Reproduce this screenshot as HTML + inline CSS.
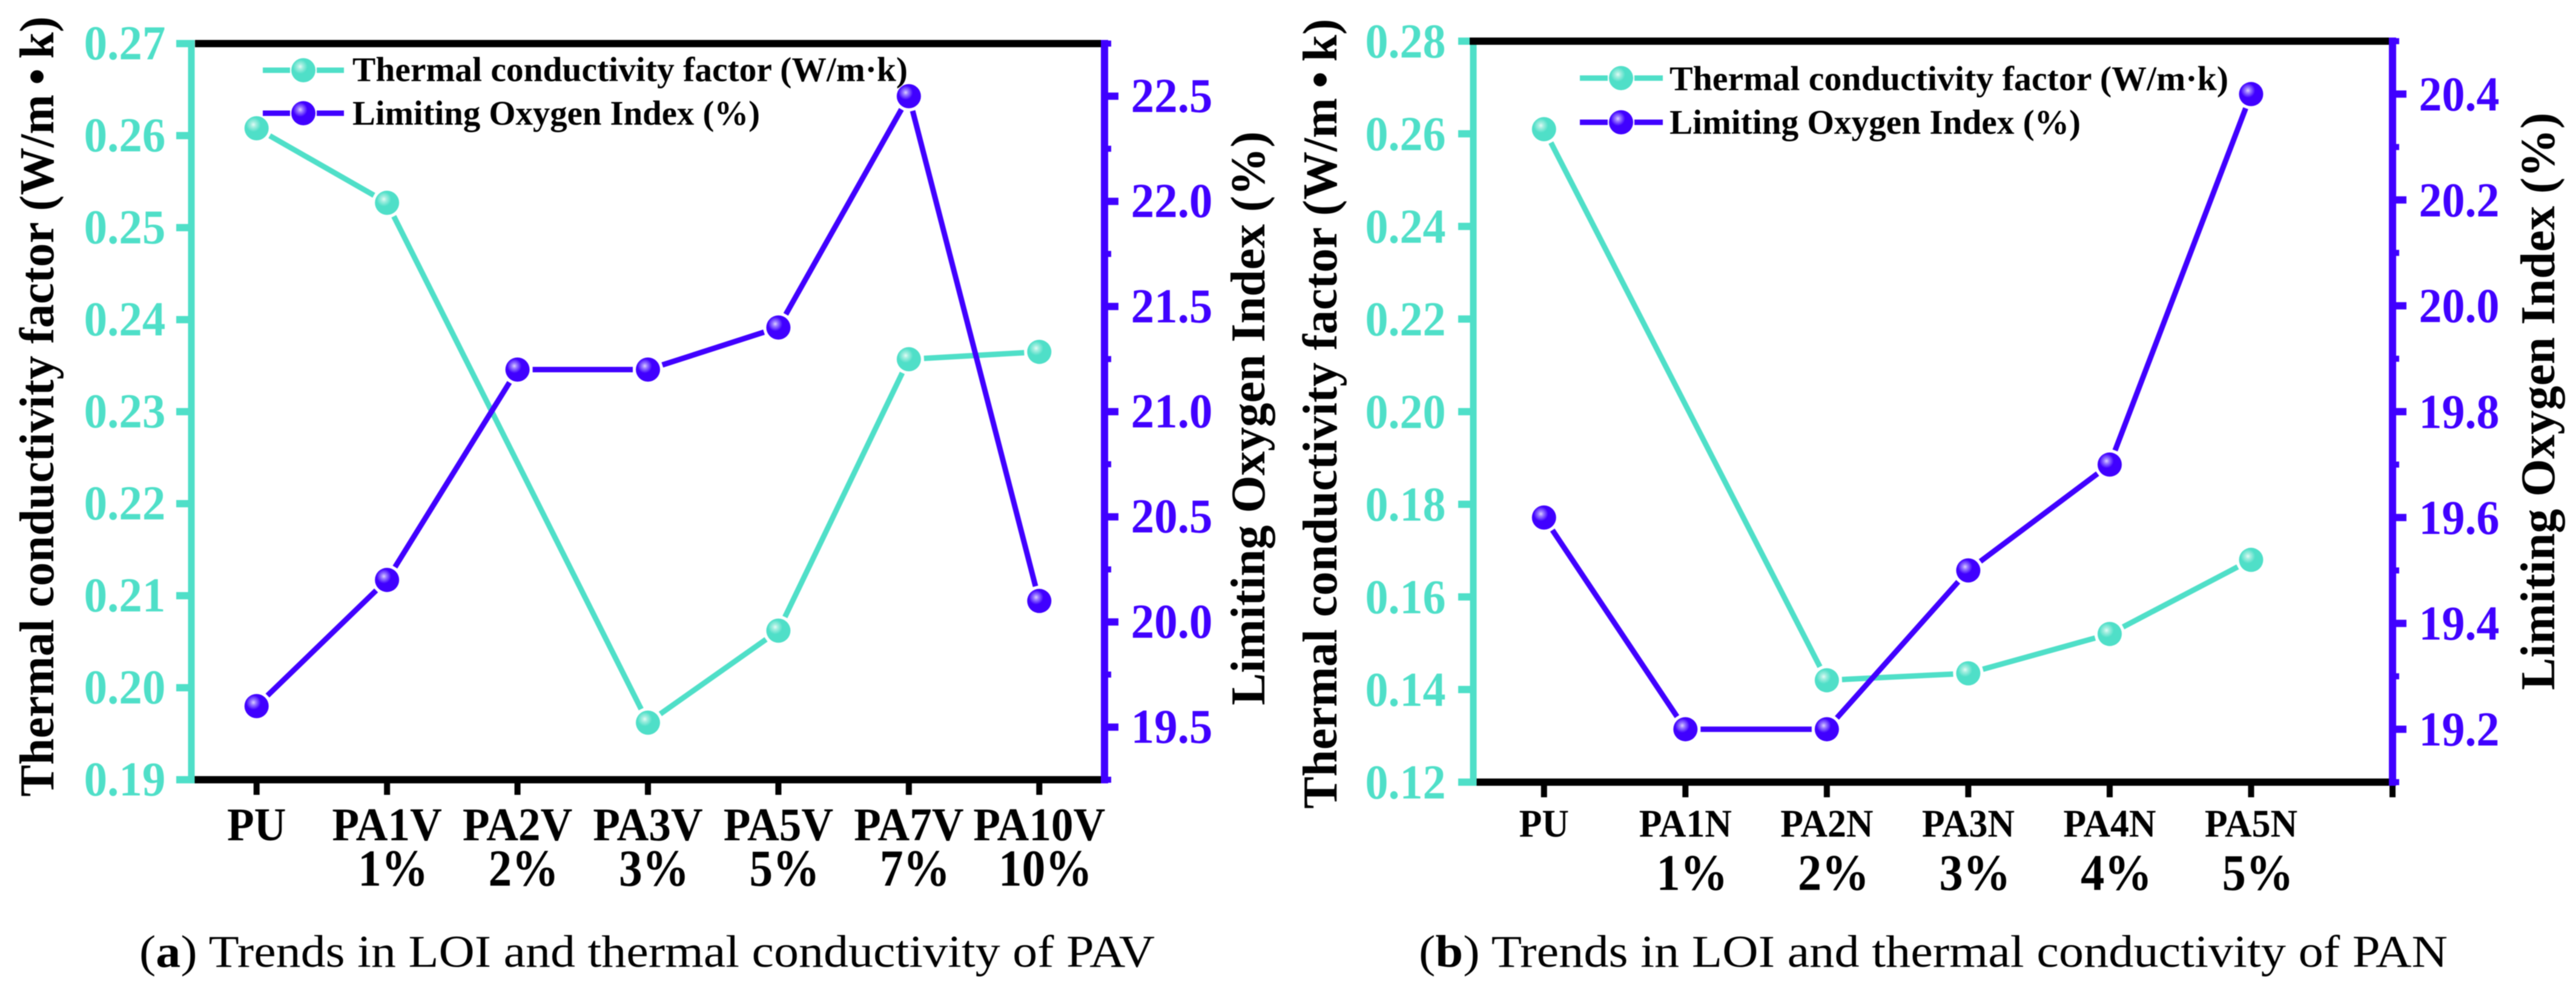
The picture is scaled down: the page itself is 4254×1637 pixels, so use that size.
<!DOCTYPE html>
<html lang="en">
<head>
<meta charset="utf-8">
<title>Trends in LOI and thermal conductivity of PAV and PAN</title>
<style>
  html, body { margin: 0; padding: 0; background: #fff; width: 4254px; height: 1637px; overflow: hidden; }
  svg { display: block; filter: blur(0.7px); }
  text { font-family: "Liberation Serif", serif; }
  .b { font-weight: 700; }
</style>
</head>
<body>
<svg id="figure" xmlns="http://www.w3.org/2000/svg" width="4254" height="1637" viewBox="0 0 4254 1637">
  <defs>
    <radialGradient id="ball-teal" cx="0.37" cy="0.35" r="0.3">
      <stop offset="0" stop-color="#e4fbf6"/>
      <stop offset="0.35" stop-color="#a5eee0"/>
      <stop offset="1" stop-color="#4fdfc8"/>
    </radialGradient>
    <radialGradient id="ball-purple" cx="0.37" cy="0.35" r="0.3">
      <stop offset="0" stop-color="#dcd0ff"/>
      <stop offset="0.35" stop-color="#9a7cff"/>
      <stop offset="1" stop-color="#4000ff"/>
    </radialGradient>
  </defs>
  <rect x="0" y="0" width="4254" height="1637" fill="#ffffff"/>
  <g id="panel-a"></g>
  <g id="panel-b"></g>

  <text x="230" y="1597" font-size="75" textLength="1677" lengthAdjust="spacingAndGlyphs">(<tspan class="b">a</tspan>) Trends in LOI and thermal conductivity of PAV</text>
  <text x="2343" y="1597" font-size="75" textLength="1699" lengthAdjust="spacingAndGlyphs">(<tspan class="b">b</tspan>) Trends in LOI and thermal conductivity of PAN</text>
</svg>
<script>
const categoriesA = ['PU', 'PA1V', 'PA2V', 'PA3V', 'PA5V', 'PA7V', 'PA10V'];
const percentsA = ['', '1%', '2%', '3%', '5%', '7%', '10%'];
const thermalA = [0.2608, 0.2527, null, 0.1962, 0.2062, 0.2357, 0.2365];
const oxygenA = [19.6, 20.2, 21.2, 21.2, 21.4, 22.5, 20.1];
const leftTicksA = ['0.19', '0.20', '0.21', '0.22', '0.23', '0.24', '0.25', '0.26', '0.27'];
const rightTicksA = ['19.5', '20.0', '20.5', '21.0', '21.5', '22.0', '22.5'];
const rightMinorA = [19.25, 19.75, 20.25, 20.75, 21.25, 21.75, 22.25, 22.75];

const categoriesB = ['PU', 'PA1N', 'PA2N', 'PA3N', 'PA4N', 'PA5N', ''];
const percentsB = ['', '1%', '2%', '3%', '4%', '5%', ''];
const thermalB = [0.261, null, 0.142, 0.1435, 0.152, 0.168];
const oxygenB = [19.6, 19.2, 19.2, 19.5, 19.7, 20.4];
const leftTicksB = ['0.12', '0.14', '0.16', '0.18', '0.20', '0.22', '0.24', '0.26', '0.28'];
const rightTicksB = ['19.2', '19.4', '19.6', '19.8', '20.0', '20.2', '20.4'];
const rightMinorB = [19.1, 19.3, 19.5, 19.7, 19.9, 20.1, 20.3, 20.5];

const TEAL = '#4fdfc8';
const PURPLE = '#4000ff';
const SVGNS = 'http://www.w3.org/2000/svg';

function make(parent, tag, attrs, content) {
  const el = document.createElementNS(SVGNS, tag);
  for (const k in attrs) el.setAttribute(k, attrs[k]);
  if (content !== undefined) el.textContent = content;
  parent.appendChild(el);
  return el;
}

function squeezedText(parent, x, y, str, size, sx, fill) {
  return make(parent, 'text', {
    transform: 'translate(' + x + ' ' + y + ') scale(' + sx + ' 1)',
    'text-anchor': 'middle', 'font-size': size, 'font-weight': 700, fill: fill
  }, str);
}

function drawSeries(g, values, xOf, yOf, color, gradient, seriesName) {
  const pts = [];
  values.forEach(function (v, i) { if (v !== null) pts.push({ x: xOf(i), y: yOf(v) }); });
  const trim = 25;
  for (let i = 0; i < pts.length - 1; i++) {
    const a = pts[i], b = pts[i + 1];
    const d = Math.hypot(b.x - a.x, b.y - a.y);
    const ux = (b.x - a.x) / d, uy = (b.y - a.y) / d;
    const seg = make(g, 'line', {
      x1: a.x + ux * trim, y1: a.y + uy * trim,
      x2: b.x - ux * trim, y2: b.y - uy * trim,
      stroke: color, 'stroke-width': 9
    });
    
    
  }
  pts.forEach(function (p) {
    const dot = make(g, 'circle', { cx: p.x, cy: p.y, r: 20, fill: 'url(#' + gradient + ')' });
    
    
  });
}

function drawLegendEntry(g, geo, y, baseline, color, gradient, label, endX, entryName) {
  const left = make(g, 'line', { x1: geo.lx0, y1: y, x2: geo.mx - 22, y2: y, stroke: color, 'stroke-width': 9 });
  
  
  const right = make(g, 'line', { x1: geo.mx + 22, y1: y, x2: geo.lx1, y2: y, stroke: color, 'stroke-width': 9 });
  
  
  const dot = make(g, 'circle', { cx: geo.mx, cy: y, r: 20, fill: 'url(#' + gradient + ')' });
  
  
  const t = make(g, 'text', {
    x: geo.tx, y: baseline, 'font-size': 57, 'font-weight': 700, fill: '#000',
    textLength: endX - geo.tx, lengthAdjust: 'spacingAndGlyphs'
  }, label);
  
  
}

function drawPanel(g, c) {
  const xOf = function (i) { return c.left + (i - c.xMin) / (c.xMax - c.xMin) * (c.right - c.left); };
  const yL = function (v) { return c.bottom - (v - c.lMin) / (c.lMax - c.lMin) * (c.bottom - c.top); };
  const yR = function (v) { return c.bottom - (v - c.rMin) / (c.rMax - c.rMin) * (c.bottom - c.top); };

  // bottom frame line
  const bottomAxis = make(g, 'line', { x1: c.left, y1: c.bottom, x2: c.right, y2: c.bottom, stroke: '#000', 'stroke-width': 12 });
  
  

  // x ticks and labels
  c.categories.forEach(function (cat, i) {
    const x = xOf(i);
    const tick = make(g, 'line', { x1: x, y1: c.bottom, x2: x, y2: c.bottom + 25, stroke: '#000', 'stroke-width': 10 });
    
    
    if (cat) {
      const lab = squeezedText(g, x, c.xLabelY, cat, c.xLabelSize, 0.95, '#000');
      
      
    }
    if (c.percents[i]) {
      const pct = squeezedText(g, x + c.pctShift, c.pctY, c.percents[i], c.pctSize, c.pctSx, '#000');
      
      
    }
  });

  // left axis
  const leftAxis = make(g, 'line', { x1: c.left, y1: c.top - 6, x2: c.left, y2: c.bottom + 6, stroke: TEAL, 'stroke-width': 11 });
  
  
  c.leftTicks.forEach(function (s) {
    const y = yL(parseFloat(s));
    const tick = make(g, 'line', { x1: c.left - 25, y1: y, x2: c.left, y2: y, stroke: TEAL, 'stroke-width': 12 });
    
    
    const lab = squeezedText(g, c.leftLabelX, y + c.labelDrop, s, c.tickSize, 0.95, TEAL);
    
    
  });

  // top frame line: over the teal axis in panel b, under it in panel a
  const topAxis = make(g, 'line', { x1: c.topStart, y1: c.top, x2: c.right, y2: c.top, stroke: '#000', 'stroke-width': 12 });
  
  

  // right axis
  const rightAxis = make(g, 'line', { x1: c.right, y1: c.top - 6, x2: c.right, y2: c.bottom + 6, stroke: PURPLE, 'stroke-width': 12 });
  
  
  c.rightMinor.forEach(function (v) {
    const y = yR(v);
    const tick = make(g, 'line', { x1: c.right, y1: y, x2: c.right + 11, y2: y, stroke: PURPLE, 'stroke-width': 10 });
    
    
  });
  c.rightTicks.forEach(function (s) {
    const y = yR(parseFloat(s));
    const tick = make(g, 'line', { x1: c.right, y1: y, x2: c.right + 23, y2: y, stroke: PURPLE, 'stroke-width': 12 });
    
    
    const lab = squeezedText(g, c.rightLabelX, y + c.labelDrop, s, c.tickSize, 0.95, PURPLE);
    
    
  });

  // axis titles
  const lt = make(g, 'text', {
    transform: 'translate(' + c.leftTitle.x + ' ' + c.leftTitle.y0 + ') rotate(-90)',
    'font-size': 80, 'font-weight': 700, fill: '#000',
    textLength: c.leftTitle.len, lengthAdjust: 'spacingAndGlyphs'
  }, 'Thermal conductivity factor (W/m\u2009\u2022\u2009k)');
  
  
  const rt = make(g, 'text', {
    transform: 'translate(' + c.rightTitle.x + ' ' + c.rightTitle.y0 + ') rotate(-90)',
    'font-size': 80, 'font-weight': 700, fill: '#000',
    textLength: c.rightTitle.len, lengthAdjust: 'spacingAndGlyphs'
  }, 'Limiting Oxygen Index (%)');
  
  

  // series
  drawSeries(g, c.thermal, xOf, yL, TEAL, 'ball-teal', 'thermal-conductivity');
  drawSeries(g, c.oxygen, xOf, yR, PURPLE, 'ball-purple', 'limiting-oxygen-index');

  // legend
  drawLegendEntry(g, c.legend, c.legend.y1, c.legend.b1, TEAL, 'ball-teal', 'Thermal conductivity factor (W/m\u00b7k)', c.legend.end1, 'legend-thermal-conductivity');
  drawLegendEntry(g, c.legend, c.legend.y2, c.legend.b2, PURPLE, 'ball-purple', 'Limiting Oxygen Index (%)', c.legend.end2, 'legend-limiting-oxygen-index');
}

drawPanel(document.getElementById('panel-a'), {
  left: 316, right: 1824, top: 72, bottom: 1288, topStart: 322,
  xMin: -0.5, xMax: 6.5, lMin: 0.19, lMax: 0.27, rMin: 19.25, rMax: 22.75,
  categories: categoriesA, percents: percentsA, thermal: thermalA, oxygen: oxygenA,
  leftTicks: leftTicksA, rightTicks: rightTicksA, rightMinor: rightMinorA,
  tickSize: 81, labelDrop: 26, leftLabelX: 206, rightLabelX: 1935,
  xLabelY: 1388, xLabelSize: 77, pctY: 1463, pctSize: 86, pctShift: 10, pctSx: 0.9,
  leftTitle: { x: 88, y0: 1316, len: 1289 },
  rightTitle: { x: 2088, y0: 1165, len: 948 },
  legend: { lx0: 434, lx1: 568, mx: 501, tx: 582, y1: 116, y2: 187, b1: 134, b2: 206, end1: 1499, end2: 1255 }
});

drawPanel(document.getElementById('panel-b'), {
  left: 2433, right: 3951, top: 68, bottom: 1292, topStart: 2427,
  xMin: -0.5, xMax: 6, lMin: 0.12, lMax: 0.28, rMin: 19.1, rMax: 20.5,
  categories: categoriesB, percents: percentsB, thermal: thermalB, oxygen: oxygenB,
  leftTicks: leftTicksB, rightTicks: rightTicksB, rightMinor: rightMinorB,
  tickSize: 80, labelDrop: 27, leftLabelX: 2321, rightLabelX: 4061,
  xLabelY: 1382, xLabelSize: 65, pctY: 1470, pctSize: 85, pctShift: 11, pctSx: 0.925,
  leftTitle: { x: 2207, y0: 1336, len: 1305 },
  rightTitle: { x: 4218, y0: 1140, len: 954 },
  legend: { lx0: 2609, lx1: 2746, mx: 2677, tx: 2757, y1: 129, y2: 202, b1: 149, b2: 221, end1: 3680, end2: 3436 }
});
</script>
</body>
</html>
